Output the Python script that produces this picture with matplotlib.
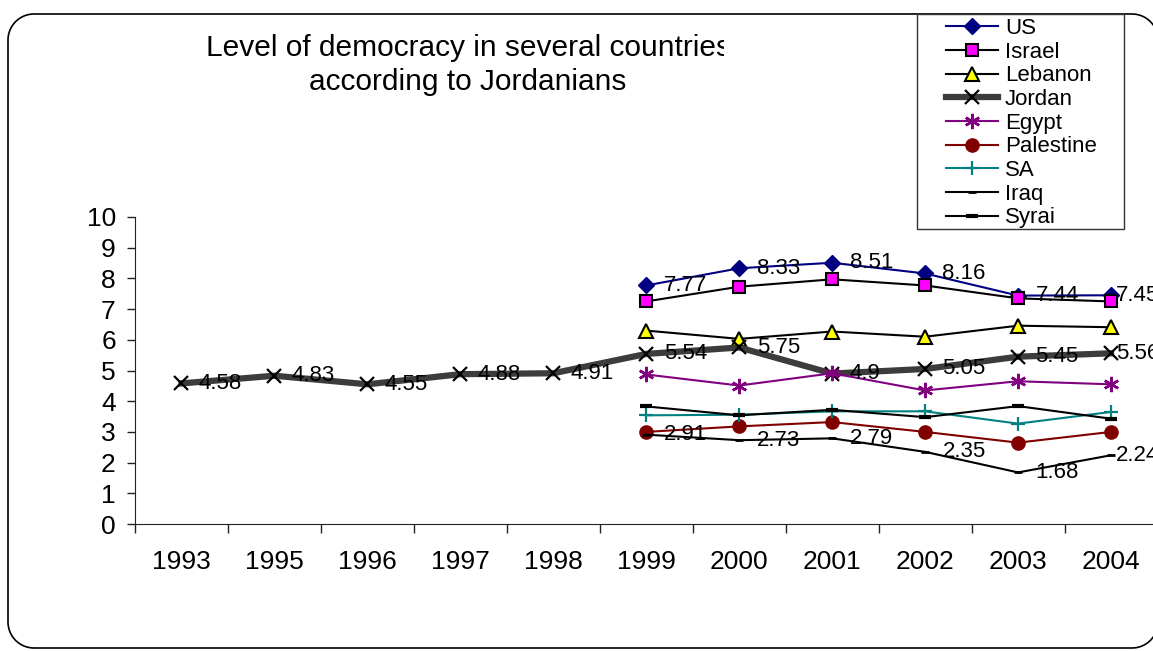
import matplotlib
matplotlib.use("Agg")
import numpy as np
from matplotlib import pyplot as plt
from matplotlib.patches import Rectangle, Polygon
from matplotlib.transforms import IdentityTransform, Bbox

plt.rcParams['font.family'] = ['Liberation Sans', 'DejaVu Sans']

# data
years = ['1993', '1995', '1996', '1997', '1998', '1999', '2000', '2001', '2002', '2003', '2004']
lateYears = years[5:]
us = [7.77, 8.33, 8.51, 8.16, 7.44, 7.45]
israel = [7.25, 7.73, 7.97, 7.77, 7.35, 7.25]
lebanon = [6.30, 6.03, 6.27, 6.10, 6.46, 6.41]
jordan = [4.58, 4.83, 4.55, 4.88, 4.91, 5.54, 5.75, 4.9, 5.05, 5.45, 5.56]
egypt = [4.87, 4.51, 4.91, 4.35, 4.65, 4.55]
palestine = [3.00, 3.18, 3.32, 3.00, 2.65, 3.00]
sa = [3.54, 3.56, 3.67, 3.67, 3.27, 3.65]
iraq = [2.91, 2.73, 2.79, 2.35, 1.68, 2.24]
syria = [3.83, 3.54, 3.72, 3.48, 3.84, 3.43]

W, H = 1153, 651
fig = plt.figure(figsize=(W / 100, H / 100), dpi=100)

# rounded chart border in pixels; right side runs off the picture
def roundedOutline(left, bottom, right, top, r):
    pts = []
    corners = [(right - r, top - r, 0, 90), (left + r, top - r, 90, 180),
               (left + r, bottom + r, 180, 270), (right - r, bottom + r, 270, 360)]
    for cx, cy, a0, a1 in corners:
        t = np.radians(np.linspace(a0, a1, 20))
        pts += list(zip(cx + r * np.cos(t), cy + r * np.sin(t)))
    return pts

fig.patches.append(Polygon(roundedOutline(8, H - 648, 1158, H - 14, 26), closed=True,
                           transform=IdentityTransform(), facecolor='none', edgecolor='black',
                           linewidth=1.2, zorder=-1))

ax = fig.add_axes([135 / W, (H - 524) / H, 1022.5 / W, 307 / H])
ax.patch.set_alpha(0)
ax.set_zorder(2)

xAll = list(range(len(years)))
xLate = xAll[5:]

ax.plot(xLate, us, color='#000080', lw=1.5, marker='D', ms=7.8, mfc='#000080', mec='#000080', label='US')
ax.plot(xLate, israel, color='black', lw=1.5, marker='s', ms=8.8, mfc='#FF00FF', mec='black', mew=1.5, label='Israel')
ax.plot(xLate, lebanon, color='black', lw=1.5, marker='^', ms=9.5, mfc='#FFFF00', mec='black', mew=1.5, label='Lebanon')
ax.plot(xAll, jordan, color='#3c3c3c', lw=4.5, marker='x', ms=9.5, mec='black', mew=1.6, label='Jordan')
ax.plot(xLate, egypt, color='#800080', lw=1.5, marker=(6, 2, 0), ms=11, mec='#800080', mew=1.8, label='Egypt')
ax.plot(xLate, palestine, color='#800000', lw=1.5, marker='o', ms=9.5, mfc='#800000', mec='#800000', label='Palestine')
ax.plot(xLate, sa, color='#008080', lw=1.5, marker='+', ms=10.5, mec='#008080', mew=1.6, label='SA')
ax.plot(xLate, iraq, color='black', lw=1.5, marker='_', ms=6, mec='black', mew=2, label='Iraq')
ax.plot(xLate, syria, color='black', lw=1.5, marker='_', ms=8, mec='black', mew=3, label='Syrai')

# data labels (the last one gets pushed left, like Excel does at the chart edge)
def labelSeries(xs, ys):
    for i, (x, y) in enumerate(zip(xs, ys)):
        dx = 12.5 if i < len(xs) - 1 else 3.5
        ax.annotate(str(y), (x, y), xytext=(dx, 0), textcoords='offset points',
                    ha='left', va='center', fontsize=16, annotation_clip=False, zorder=10)

labelSeries(xLate, us)
labelSeries(xAll, jordan)
labelSeries(xLate, iraq)

ax.set_xlim(-0.5, len(years) - 0.5)
ax.set_ylim(0, 10)
ax.set_yticks(range(0, 11))
ax.set_xticks([i - 0.5 for i in range(len(years) + 1)])
ax.set_xticklabels([])
ax.set_xticks(xAll, minor=True)
ax.set_xticklabels(years, minor=True)
ax.tick_params(axis='x', which='major', direction='out', length=6.5, width=1, color='#222222')
ax.tick_params(axis='x', which='minor', length=0, pad=18.5, labelsize=19)
ax.tick_params(axis='y', direction='out', length=5.8, width=1, pad=8, labelsize=19, color='#222222')
ax.spines['top'].set_visible(False)
ax.spines['right'].set_visible(False)
ax.spines['left'].set_color('#222222')
ax.spines['bottom'].set_color('#222222')

# title, clipped on the right like the original
title = fig.text(468 / W, 1 - 65 / H, 'Level of democracy in several countries\naccording to Jordanians',
                 ha='center', va='center', fontsize=21.5, linespacing=1.3)
title.set_clip_box(Bbox([[0, 0], [724, H]]))
title.set_clip_on(True)

# legend with hand-drawn frame
fig.patches.append(Rectangle((917, H - 229), 207, 215, transform=IdentityTransform(),
                             facecolor='white', edgecolor='#333333', linewidth=1, zorder=3))
leg = fig.legend(loc='upper left', bbox_to_anchor=(946 / W, 1 - 18 / H), frameon=False,
                 fontsize=16, borderpad=0, borderaxespad=0, handlelength=2.35,
                 handletextpad=0.3, labelspacing=0.12)
leg.set_zorder(5)

fig.savefig('out.png', dpi=100)
